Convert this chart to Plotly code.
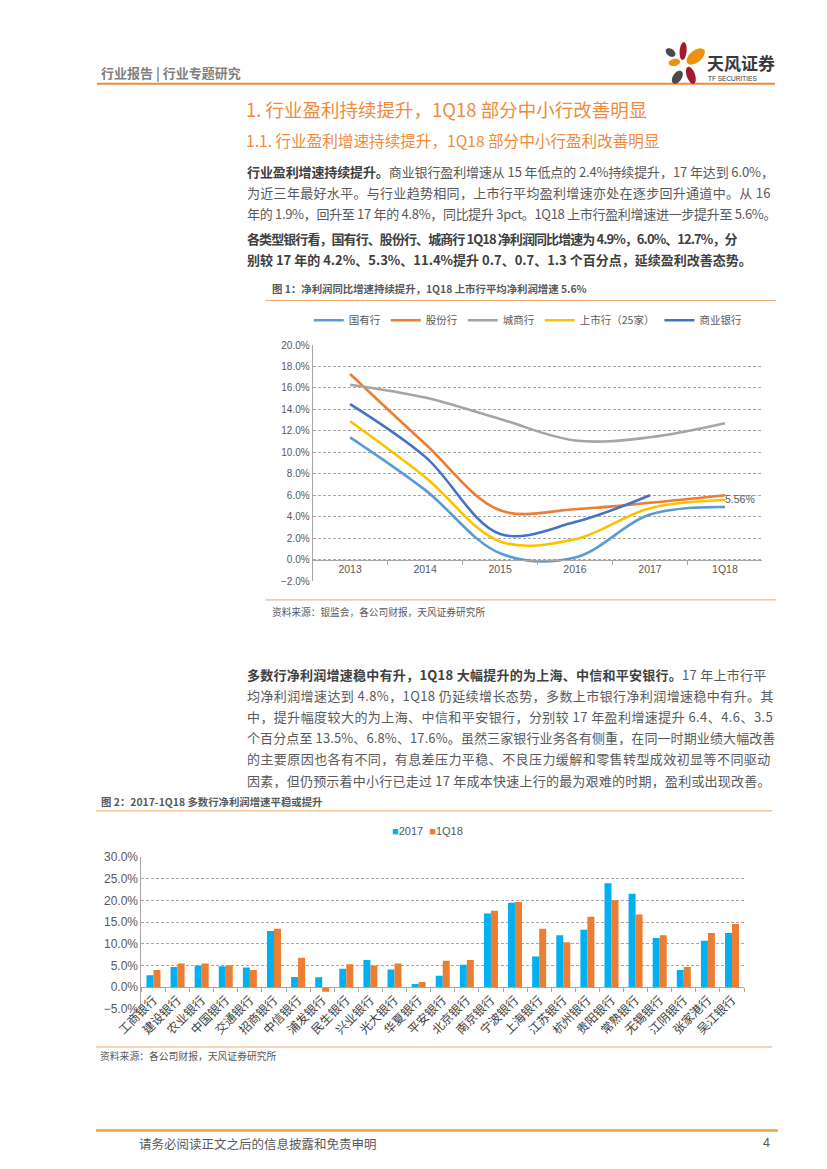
import math
import plotly.graph_objects as go

W, H = 827, 1169
def X(px): return px / W
def Y(py): return 1 - py / H

CJK = "Noto Sans CJK SC"
NUM = "Liberation Sans, Noto Sans CJK SC"

# ---------------- data: chart 1 ----------------
years = ['2013', '2014', '2015', '2016', '2017', '1Q18']
state_owned = [11.4, 6.5, 0.6, 0.2, 4.2, 4.9]
joint_stock = [17.3, 10.8, 4.6, 4.7, 5.3, 6.0]
city_comm = [16.3, 15.1, 13.1, 11.1, 11.4, 12.7]
listed25 = [12.9, 7.7, 1.7, 1.9, 4.8, 5.56]
commercial = [14.5, 9.6, 2.4, 3.5, 6.0, None]
line_names = ['国有行', '股份行', '城商行', '上市行（25家）', '商业银行']
line_series = [state_owned, joint_stock, city_comm, listed25, commercial]
line_colors = ['#5B9BD5', '#ED7D31', '#A5A5A5', '#FFC000', '#4472C4']

# ---------------- data: chart 2 ----------------
banks = ['工商银行', '建设银行', '农业银行', '中国银行', '交通银行', '招商银行', '中信银行',
         '浦发银行', '民生银行', '兴业银行', '光大银行', '华夏银行', '平安银行', '北京银行',
         '南京银行', '宁波银行', '上海银行', '江苏银行', '杭州银行', '贵阳银行', '常熟银行',
         '无锡银行', '江阴银行', '张家港行', '吴江银行']
g2017 = [2.8, 4.7, 5.0, 4.85, 4.55, 13.0, 2.35, 2.3, 4.25, 6.3, 4.1, 0.75, 2.65, 5.2,
         17.0, 19.5, 7.1, 12.0, 13.25, 24.0, 21.6, 11.4, 4.0, 10.75, 12.5]
g1q18 = [4.0, 5.5, 5.5, 5.1, 4.0, 13.5, 6.8, -1.05, 5.3, 5.0, 5.5, 1.2, 6.1, 6.3,
         17.65, 19.7, 13.5, 10.4, 16.3, 20.1, 16.8, 12.0, 4.7, 12.5, 14.6]
bar_names = ['2017', '1Q18']
bar_colors = ['#00B0F0', '#ED7D31']

fig = go.Figure()

for name, vals, col in zip(line_names, line_series, line_colors):
    fig.add_trace(go.Scatter(x=years, y=vals, name=name, mode='lines',
                             line=dict(color=col, width=2.6, shape='spline', smoothing=1),
                             xaxis='x', yaxis='y', legend='legend', hoverinfo='skip'))
fig.add_trace(go.Scatter(x=[years[-1]], y=[listed25[-1]], mode='text',
                         text=[f'{listed25[-1]:.2f}%'], textposition='middle right',
                         textfont=dict(size=10.5, color='#595959', family=NUM),
                         showlegend=False, xaxis='x', yaxis='y', hoverinfo='skip'))

for name, vals, col in zip(bar_names, [g2017, g1q18], bar_colors):
    fig.add_trace(go.Bar(x=banks, y=vals, name=name, marker=dict(color=col, line=dict(width=0)),
                         xaxis='x2', yaxis='y2', showlegend=False, hoverinfo='skip'))

GRID = '#A6A6A6'
AX = '#A6A6A6'
TXT = '#595959'

fig.update_layout(
    width=W, height=H, margin=dict(l=0, r=0, t=0, b=0),
    paper_bgcolor='white', plot_bgcolor='white',
    barmode='group', bargap=0.42, bargroupgap=0,
    xaxis=dict(domain=[X(287), X(752)], anchor='free', position=Y(551.3),
               type='category', range=[-0.5, 5.5], tickson='boundaries',
               ticks='outside', ticklen=4, tickcolor=AX, showline=True, linecolor=AX,
               linewidth=1, showgrid=False, zeroline=False,
               tickfont=dict(size=10.5, color=TXT, family=NUM)),
    yaxis=dict(domain=[Y(573), Y(334)], anchor='x', range=[-2, 20], dtick=2,
               tickformat='.1f', ticksuffix='%', showgrid=True, gridcolor=GRID,
               griddash='3px,2px', gridwidth=1, showline=True, linecolor=AX,
               zeroline=False, ticks='', tickfont=dict(size=10, color=TXT, family=NUM)),
    xaxis2=dict(domain=[X(110), X(733)], anchor='free', position=Y(984.2),
                type='category', tickson='boundaries', ticks='outside', ticklen=4,
                tickcolor=AX, showline=True, linecolor=AX, linewidth=1,
                showgrid=False, zeroline=False, tickangle=-45,
                tickfont=dict(size=12, color='#404040', family=CJK)),
    yaxis2=dict(domain=[Y(1006), Y(852.5)], anchor='x2', range=[-5, 30], dtick=5,
                tickformat='.1f', ticksuffix='%', showgrid=True, gridcolor=GRID,
                griddash='3px,2px', gridwidth=1, showline=True, linecolor=AX,
                zeroline=False, ticks='', tickfont=dict(size=12, color=TXT, family=NUM)),
    legend=dict(orientation='h', x=X(283), y=Y(309), xanchor='left', yanchor='middle',
                font=dict(size=10.5, color=TXT, family=CJK), bgcolor='rgba(0,0,0,0)',
                itemwidth=30, tracegroupgap=0),
)

ann = []
def txt(x, y, s, size, color, anchor='left', family=CJK):
    ann.append(dict(x=X(x), y=Y(y), xref='paper', yref='paper', text=s, showarrow=False,
                    xanchor=anchor, yanchor='middle',
                    font=dict(size=size, color=color, family=family)))

BODY = '#595959'
BOLD = '#404040'
ORANGE = '#F08A3C'

def est_width(s, f, bold):
    w = 0.0
    lb = 1.25 if bold else 1.0
    for ch in s:
        o = ord(ch)
        if o > 0x2E80:
            w += 1.0
        elif ch.isdigit():
            w += 0.54 * lb
        elif ch in '.,':
            w += 0.26 * lb
        elif ch == '%':
            w += 0.84 * lb
        elif ch == ' ':
            w += 0.22
        elif ch == 'Q':
            w += 0.68 * lb
        elif ch.islower():
            w += 0.5
        elif ch.isupper():
            w += 0.62
        elif ch == '-':
            w += 0.32
        else:
            w += 0.5
    return w * f * 1.035

def para_line(x, y, segs, size, target=None):
    est = sum(est_width(t, size, b) for t, b in segs)
    n = sum(len(t) for t, b in segs)
    ls = 0.0
    if target is not None:
        ls = max(-1.2, min(2.0, (target - est) / max(n - 1, 1)))
    html = ''
    for t, b in segs:
        if b:
            html += f'<b><span style="color:{BOLD}">{t}</span></b>'
        else:
            html += t
    html = f'<span style="letter-spacing:{ls:.3f}px">{html}</span>'
    txt(x, y, html, size, BODY)

LEFT, RIGHT = 217, 758
FULL = RIGHT - LEFT

txt(66, 58, '<b>行业报告 | 行业专题研究</b>', 13, '#7F7F7F')
txt(693, 48, '<b>天风证券</b>', 17, '#3A3A3A')
txt(694, 64.5, 'TF SECURITIES', 6.5, '#3A3A3A', family='Liberation Sans')

txt(216, 95, '1. 行业盈利持续提升，1Q18 部分中小行改善明显', 18.5, ORANGE)
txt(216, 127, '1.1. 行业盈利增速持续提升，1Q18 部分中小行盈利改善明显', 15.6, ORANGE)

para1 = [
    [('行业盈利增速持续提升。', True), ('商业银行盈利增速从 15 年低点的 2.4%持续提升，17 年达到 6.0%，', False)],
    [('为近三年最好水平。与行业趋势相同，上市行平均盈利增速亦处在逐步回升通道中。从 16', False)],
    [('年的 1.9%，回升至 17 年的 4.8%，同比提升 3pct。1Q18 上市行盈利增速进一步提升至 5.6%。', False)],
]
for i, segs in enumerate(para1):
    para_line(LEFT, 158 + 21.3 * i, segs, 13, FULL)
para2 = [
    [('各类型银行看，国有行、股份行、城商行 1Q18 净利润同比增速为 4.9%，6.0%、12.7%，分', True)],
    [('别较 17 年的 4.2%、5.3%、11.4%提升 0.7、0.7、1.3 个百分点，延续盈利改善态势。', True)],
]
for i, segs in enumerate(para2):
    para_line(LEFT, 226 + 21.3 * i, segs, 13, FULL - 16 if i == 0 else None)

txt(243, 277, '<b>图 1：净利润同比增速持续提升，1Q18 上市行平均净利润增速 5.6%</b>', 10.4, '#595959')
txt(243, 604, '资料来源：银监会，各公司财报，天风证券研究所', 9.7, '#595959')

para3 = [
    [('多数行净利润增速稳中有升，1Q18 大幅提升的为上海、中信和平安银行。', True), ('17 年上市行平', False)],
    [('均净利润增速达到 4.8%，1Q18 仍延续增长态势，多数上市银行净利润增速稳中有升。其', False)],
    [('中，提升幅度较大的为上海、中信和平安银行，分别较 17 年盈利增速提升 6.4、4.6、3.5', False)],
    [('个百分点至 13.5%、6.8%、17.6%。虽然三家银行业务各有侧重，在同一时期业绩大幅改善', False)],
    [('的主要原因也各有不同，有息差压力平稳、不良压力缓解和零售转型成效初显等不同驱动', False)],
    [('因素，但仍预示着中小行已走过 17 年成本快速上行的最为艰难的时期，盈利或出现改善。', False)],
]
for i, segs in enumerate(para3):
    para_line(LEFT, 667 + 21.5 * i, segs, 13, FULL)

txt(66, 796, '<b>图 2：2017-1Q18 多数行净利润增速平稳或提升</b>', 10.4, '#595959')
txt(65, 1054, '资料来源：各公司财报，天风证券研究所', 9.8, '#595959')

# bar legend
ann.append(dict(x=X(406), y=Y(826), xref='paper', yref='paper', showarrow=False,
                xanchor='center', yanchor='middle',
                text=f'<span style="color:{bar_colors[0]}">■</span>{bar_names[0]}  '
                     f'<span style="color:{bar_colors[1]}">■</span>{bar_names[1]}',
                font=dict(size=11, color=TXT, family=NUM)))

txt(105, 1142, '请务必阅读正文之后的信息披露和免责申明', 12.5, '#595959')
txt(762, 1142, '4', 12.5, '#595959', anchor='right', family=NUM)

fig.update_layout(annotations=ann)

# ---------------- shapes ----------------
shapes = []
def hline(y, x0, x1, color, width):
    shapes.append(dict(type='line', xref='paper', yref='paper', x0=X(x0), x1=X(x1),
                       y0=Y(y), y1=Y(y), line=dict(color=color, width=width)))

hline(69.5, 64, 765, '#EE8A3A', 2)
hline(289, 238, 766, '#EFA86C', 1)
hline(592, 238, 766, '#EFA86C', 1)
hline(805.5, 63, 762, '#EFA86C', 1)
hline(1044.5, 63, 762, '#EFA86C', 1)
hline(1129, 63, 768, '#EDA23C', 2.5)

def ellipse(cx, cy, a, b, ang, color, n=40):
    t = math.radians(ang)
    pts = []
    for k in range(n):
        th = 2 * math.pi * k / n
        ex, ey = a * math.cos(th), b * math.sin(th)
        px = cx + ex * math.cos(t) - ey * math.sin(t)
        py = cy + ex * math.sin(t) + ey * math.cos(t)
        pts.append(f'{X(px):.5f},{Y(py):.5f}')
    path = 'M' + ' L'.join(pts) + ' Z'
    shapes.append(dict(type='path', xref='paper', yref='paper', path=path,
                       fillcolor=color, line=dict(width=0)))

RED = '#A3192F'
ORG = '#F0900F'
DGR = '#4A4A4A'
ellipse(670, 36.5, 9, 3.6, 95, RED)
ellipse(683, 42, 11, 6, -38, ORG)
ellipse(657, 38, 5.5, 3.8, 35, DGR)
ellipse(661, 48, 6, 3.6, -12, ORG)
ellipse(664, 63, 7.5, 4.5, -55, DGR)
ellipse(678, 61, 9, 4.3, 70, RED)

fig.update_layout(shapes=shapes)

fig.write_html('out.html')
